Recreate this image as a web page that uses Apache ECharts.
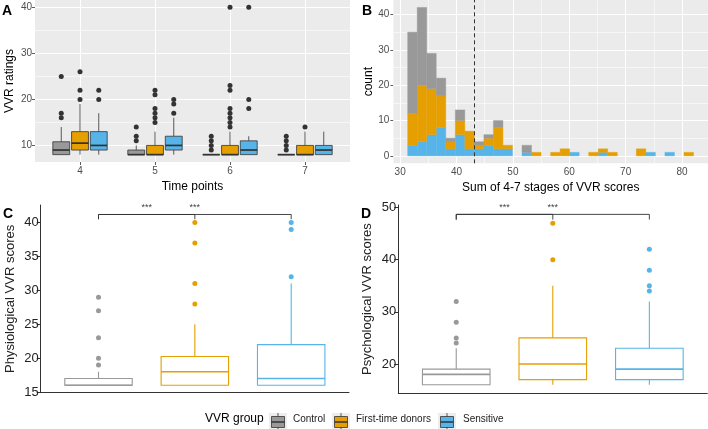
<!DOCTYPE html>
<html>
<head>
<meta charset="utf-8">
<script src="https://cdn.jsdelivr.net/npm/echarts@6/dist/echarts.min.js"></script>
<style>
  html, body { margin: 0; padding: 0; background: #fff; }
  #chart { width: 708px; height: 429px; }
</style>
</head>
<body>
<div id="chart"></div>
<script>
const groups = ['Control', 'First-time donors', 'Sensitive'];
const groupColors = ['#999999', '#E69F00', '#56B4E9'];

// A: VVR ratings per time point, box = [min, q1, median, q3, max]
const timePoints = [4, 5, 6, 7];
const aBoxControl = [[8, 8, 9, 10.8, 14], [8, 8, 8, 9, 10], [8, 8, 8, 8, 8], [8, 8, 8, 8, 8]];
const aBoxFirst = [[8, 9, 10.5, 13, 19], [8, 8, 8, 10, 13], [8, 8, 8, 10, 13], [8, 8, 8, 10, 13]];
const aBoxSensitive = [[8, 9, 10, 13, 17], [8, 9, 10, 12, 16], [8, 8, 9, 11, 12], [8, 8, 9, 10, 13]];
const aOutControl = [[16, 17, 25], [11, 12, 14], [9, 10, 11, 12], [9, 10, 11, 12]];
const aOutFirst = [[20, 22, 26], [15, 16, 17, 18, 21, 22], [14, 15, 16, 17, 18, 22, 23, 40], [14]];
const aOutSensitive = [[20, 22], [17, 19, 20], [18, 20, 40], []];
const aTicksY = [10, 20, 30, 40];
const aMinorY = [15, 25, 35];

// B: histogram of the 4-7 stage sums (30 bins)
const bBinStart = 31.33;
const bBinWidth = 1.69;
const bCountControl = [23, 22, 10, 5, 1, 3, 0, 1, 1, 2, 0, 0, 2, 0, 0, 0, 0, 0, 0, 0, 0, 0, 0, 0, 0, 0, 0, 0, 0, 0];
const bCountFirst = [9, 16, 13, 9, 2, 4, 5, 1, 2, 6, 1, 0, 0, 1, 0, 1, 2, 0, 0, 1, 1, 1, 0, 0, 2, 0, 0, 0, 0, 1];
const bCountSensitive = [3, 4, 6, 8, 2, 6, 2, 2, 3, 2, 2, 0, 1, 0, 0, 0, 0, 1, 0, 0, 1, 0, 0, 0, 0, 1, 0, 1, 0, 0];
const bCutoff = 43.2;
const bTicksX = [30, 40, 50, 60, 70, 80];
const bMinorX = [35, 45, 55, 65, 75];
const bTicksY = [0, 10, 20, 30, 40];
const bMinorY = [5, 15, 25, 35];

// C: physiological scores, D: psychological scores
const cBoxes = [[16, 16, 16, 17, 18], [16, 16, 18, 20.25, 25], [16, 16, 17, 22, 31]];
const cOutliers = [[19, 20, 23, 27, 29], [28, 31, 37, 40], [32, 39, 40]];
const cTicksY = [15, 20, 25, 30, 35, 40];
const cBracket = [41.2, 40.5];
const dBoxes = [[16, 16, 18, 19, 23], [16, 17, 20, 25, 35], [16, 17, 19, 23, 32]];
const dOutliers = [[24, 25, 28, 32], [40, 47], [34, 35, 38, 42]];
const dTicksY = [20, 30, 40, 50];
const dBracket = [48.7, 47.7];
const comparisons = [[1, 2, '***'], [1, 3, '***']];

const FONT = 'Liberation Sans';
const chart = echarts.init(document.getElementById('chart'), null, { renderer: 'canvas' });

function boxRenderer(width, fill, stroke, lw, medLw) {
  return function (params, api) {
    const x = api.value(0);
    const top = api.coord([x - width / 2, api.value(4)]);
    const bot = api.coord([x + width / 2, api.value(2)]);
    const wMax = api.coord([x, api.value(5)]);
    const wMin = api.coord([x, api.value(1)]);
    const q3 = api.coord([x, api.value(4)]);
    const q1 = api.coord([x, api.value(2)]);
    const mL = api.coord([x - width / 2, api.value(3)]);
    const mR = api.coord([x + width / 2, api.value(3)]);
    const line = { stroke: stroke, lineWidth: lw };
    return {
      type: 'group',
      children: [
        { type: 'line', shape: { x1: wMax[0], y1: wMax[1], x2: q3[0], y2: q3[1] }, style: line },
        { type: 'line', shape: { x1: q1[0], y1: q1[1], x2: wMin[0], y2: wMin[1] }, style: line },
        { type: 'rect', shape: { x: top[0], y: top[1], width: bot[0] - top[0], height: bot[1] - top[1] },
          style: { fill: fill, stroke: stroke, lineWidth: lw } },
        { type: 'line', shape: { x1: mL[0], y1: mL[1], x2: mR[0], y2: mR[1] },
          style: { stroke: stroke, lineWidth: medLw } }
      ]
    };
  };
}

function rectRenderer(color) {
  return function (params, api) {
    const p0 = api.coord([api.value(0), api.value(3)]);
    const p1 = api.coord([api.value(1), api.value(2)]);
    return {
      type: 'rect',
      shape: { x: p0[0], y: p0[1], width: p1[0] - p0[0], height: p1[1] - p0[1] },
      style: { fill: color, stroke: color, lineWidth: 0.4 }
    };
  };
}

function bracketRenderer(level) {
  return function (params, api) {
    const a = api.coord([api.value(0), level[0]]);
    const b = api.coord([api.value(1), level[0]]);
    const aTip = api.coord([api.value(0), level[1]]);
    const bTip = api.coord([api.value(1), level[1]]);
    const mid = api.coord([(api.value(0) + api.value(1)) / 2, level[0]]);
    return {
      type: 'group',
      children: [
        { type: 'polyline', shape: { points: [aTip, a, b, bTip] },
          style: { stroke: '#333', lineWidth: 0.9, fill: null } },
        { type: 'text', x: mid[0], y: a[1] - 11,
          style: { text: comparisons[params.dataIndex][2], fill: '#444', font: '9px ' + FONT,
                   align: 'center', verticalAlign: 'top' } }
      ]
    };
  };
}

function gridLineSeries(idx, majX, minX, majY, minY) {
  const data = [];
  majX.forEach(v => data.push({ xAxis: v, lineStyle: { width: 1.1 } }));
  minX.forEach(v => data.push({ xAxis: v, lineStyle: { width: 0.55 } }));
  majY.forEach(v => data.push({ yAxis: v, lineStyle: { width: 1.1 } }));
  minY.forEach(v => data.push({ yAxis: v, lineStyle: { width: 0.55 } }));
  return {
    type: 'line', xAxisIndex: idx, yAxisIndex: idx, data: [], z: 1, silent: true,
    markLine: {
      z: 1, silent: true, symbol: 'none', animation: false, label: { show: false },
      emphasis: { disabled: true },
      lineStyle: { color: '#ffffff', type: 'solid' },
      data: data
    }
  };
}

const series = [];

// Panel A
series.push(gridLineSeries(0, timePoints, [], aTicksY, aMinorY));
[aBoxControl, aBoxFirst, aBoxSensitive].forEach((boxes, g) => {
  const off = (g - 1) * 0.25;
  series.push({
    type: 'custom', name: groups[g], xAxisIndex: 0, yAxisIndex: 0, z: 3,
    renderItem: boxRenderer(0.225, groupColors[g], '#333333', 0.8, 1.7),
    data: boxes.map((b, i) => [timePoints[i] + off].concat(b))
  });
});
[aOutControl, aOutFirst, aOutSensitive].forEach((outs, g) => {
  const off = (g - 1) * 0.25;
  const pts = [];
  outs.forEach((list, i) => list.forEach(v => pts.push([timePoints[i] + off, v])));
  series.push({
    type: 'scatter', xAxisIndex: 0, yAxisIndex: 0, z: 2, symbolSize: 5,
    itemStyle: { color: '#333333', borderWidth: 0, opacity: 1 }, data: pts
  });
});

// Panel B
series.push(gridLineSeries(1, bTicksX, bMinorX, bTicksY, bMinorY));
const stackOrder = [bCountSensitive, bCountFirst, bCountControl];
const stackColors = [groupColors[2], groupColors[1], groupColors[0]];
const base = bCountSensitive.map(() => 0);
stackOrder.forEach((counts, s) => {
  const rects = [];
  counts.forEach((c, k) => {
    if (c > 0) {
      const x0 = bBinStart + k * bBinWidth;
      rects.push([x0, x0 + bBinWidth, base[k], base[k] + c]);
    }
    base[k] += c;
  });
  const ser = {
    type: 'custom', xAxisIndex: 1, yAxisIndex: 1, z: 3,
    renderItem: rectRenderer(stackColors[s]), data: rects
  };
  if (s === 2) {
    ser.markLine = {
      z: 6, silent: true, symbol: 'none', animation: false, label: { show: false },
      lineStyle: { color: '#333333', type: [4, 3], width: 1 },
      data: [{ xAxis: bCutoff }]
    };
  }
  series.push(ser);
});

// Panels C and D
[[2, cBoxes, cOutliers, cBracket], [3, dBoxes, dOutliers, dBracket]].forEach(([idx, boxes, outs, level]) => {
  boxes.forEach((b, g) => {
    series.push({
      type: 'custom', xAxisIndex: idx, yAxisIndex: idx, z: 3,
      renderItem: boxRenderer(0.7, '#ffffff', groupColors[g], 1.1, 1.6),
      data: [[g + 1].concat(b)]
    });
    series.push({
      type: 'scatter', xAxisIndex: idx, yAxisIndex: idx, z: 2, symbolSize: 5,
      itemStyle: { color: groupColors[g], borderWidth: 0, opacity: 1 },
      data: outs[g].map(v => [g + 1, v])
    });
  });
  series.push({
    type: 'custom', xAxisIndex: idx, yAxisIndex: idx, z: 4,
    renderItem: bracketRenderer(level),
    data: comparisons.map(c => [c[0], c[1]])
  });
});

const greyLabel = { color: '#4D4D4D', fontSize: 10, fontFamily: FONT };
const greyTick = { color: '#333333', width: 0.8 };
const nameStyle = { color: '#000', fontSize: 12, fontFamily: FONT };
const darkLabel = { color: '#222', fontSize: 13, fontFamily: FONT };

const option = {
  animation: false,
  textStyle: { fontFamily: FONT },
  grid: [
    { left: 35, top: 0, width: 315, height: 162, show: true, backgroundColor: '#EBEBEB', borderWidth: 0 },
    { left: 393.4, top: 0, width: 314.6, height: 163.3, show: true, backgroundColor: '#EBEBEB', borderWidth: 0 },
    { left: 40.7, top: 205, width: 308.3, height: 187.7 },
    { left: 398.3, top: 205, width: 309, height: 188.3 }
  ],
  xAxis: [
    { type: 'value', gridIndex: 0, min: 3.4, max: 7.6, splitLine: { show: false }, axisLine: { show: false },
      axisTick: { length: 3, lineStyle: greyTick, customValues: timePoints },
      axisLabel: Object.assign({ customValues: timePoints, margin: 4 }, greyLabel),
      name: 'Time points', nameLocation: 'middle', nameGap: 19, nameTextStyle: nameStyle },
    { type: 'value', gridIndex: 1, min: 28.8, max: 84.6, splitLine: { show: false }, axisLine: { show: false },
      axisTick: { length: 3, lineStyle: greyTick, customValues: bTicksX },
      axisLabel: Object.assign({ customValues: bTicksX, margin: 4 }, greyLabel),
      name: 'Sum of 4-7 stages of VVR scores', nameLocation: 'middle', nameGap: 18, nameTextStyle: nameStyle },
    { type: 'value', gridIndex: 2, min: 0.4, max: 3.6, splitLine: { show: false },
      axisLine: { onZero: false, lineStyle: { color: '#333', width: 1 } },
      axisTick: { show: false }, axisLabel: { show: false } },
    { type: 'value', gridIndex: 3, min: 0.4, max: 3.6, splitLine: { show: false },
      axisLine: { onZero: false, lineStyle: { color: '#333', width: 1 } },
      axisTick: { show: false }, axisLabel: { show: false } }
  ],
  yAxis: [
    { type: 'value', gridIndex: 0, min: 6.4, max: 41.6, splitLine: { show: false }, axisLine: { show: false },
      axisTick: { show: true, length: 3, lineStyle: greyTick, customValues: aTicksY },
      axisLabel: Object.assign({ customValues: aTicksY, margin: 3 }, greyLabel),
      name: 'VVR ratings', nameLocation: 'middle', nameGap: 19, nameTextStyle: nameStyle },
    { type: 'value', gridIndex: 1, min: -2.1, max: 44.1, splitLine: { show: false }, axisLine: { show: false },
      axisTick: { show: true, length: 3, lineStyle: greyTick, customValues: bTicksY },
      axisLabel: Object.assign({ customValues: bTicksY, margin: 4 }, greyLabel),
      name: 'count', nameLocation: 'middle', nameGap: 19, nameTextStyle: nameStyle },
    { type: 'value', gridIndex: 2, min: 14.9, max: 42.6, splitLine: { show: false },
      axisLine: { show: true, onZero: false, lineStyle: { color: '#333', width: 1 } },
      axisTick: { show: true, length: 4, lineStyle: { color: '#333', width: 1 }, customValues: cTicksY },
      axisLabel: Object.assign({ customValues: cTicksY, margin: 2 }, darkLabel),
      name: 'Physiological VVR scores', nameLocation: 'middle', nameGap: 24,
      nameTextStyle: { color: '#222', fontSize: 13, fontFamily: FONT } },
    { type: 'value', gridIndex: 3, min: 14.37, max: 50.5, splitLine: { show: false },
      axisLine: { show: true, onZero: false, lineStyle: { color: '#333', width: 1 } },
      axisTick: { show: true, length: 4, lineStyle: { color: '#333', width: 1 }, customValues: dTicksY },
      axisLabel: Object.assign({ customValues: dTicksY, margin: 2 }, darkLabel),
      name: 'Psychological VVR scores', nameLocation: 'middle', nameGap: 24,
      nameTextStyle: { color: '#222', fontSize: 13, fontFamily: FONT } }
  ],
  series: series
};

// panel letters and the shared legend
const graphics = [];
[['A', 2, 4], ['B', 362, 4], ['C', 3, 207], ['D', 361, 207]].forEach(([t, x, y]) => {
  graphics.push({ type: 'text', left: x, top: y, z: 20,
    style: { text: t, font: 'bold 14px ' + FONT, fill: '#000' } });
});
graphics.push({ type: 'text', left: 205, top: 413, z: 20,
  style: { text: 'VVR group', font: '12px ' + FONT, fill: '#000' } });
const keyX = [269, 332, 438];
const labelX = [293, 356, 463];
groups.forEach((name, g) => {
  const kx = keyX[g], ky = 410.5;
  graphics.push({ type: 'group', left: kx, top: ky, z: 20, children: [
    { type: 'rect', shape: { x: 0, y: 0, width: 18, height: 18 }, style: { fill: '#EDEDED' } },
    { type: 'line', shape: { x1: 9, y1: 0, x2: 9, y2: 18 }, style: { stroke: '#333', lineWidth: 0.8 } },
    { type: 'rect', shape: { x: 2.5, y: 3.5, width: 13, height: 11 },
      style: { fill: groupColors[g], stroke: '#333', lineWidth: 0.8 } },
    { type: 'line', shape: { x1: 2.5, y1: 9, x2: 15.5, y2: 9 }, style: { stroke: '#333', lineWidth: 1.5 } }
  ] });
  graphics.push({ type: 'text', left: labelX[g], top: 414, z: 20,
    style: { text: name, font: '10px ' + FONT, fill: '#222' } });
});
option.graphic = graphics;

chart.setOption(option);
</script>
</body>
</html>
